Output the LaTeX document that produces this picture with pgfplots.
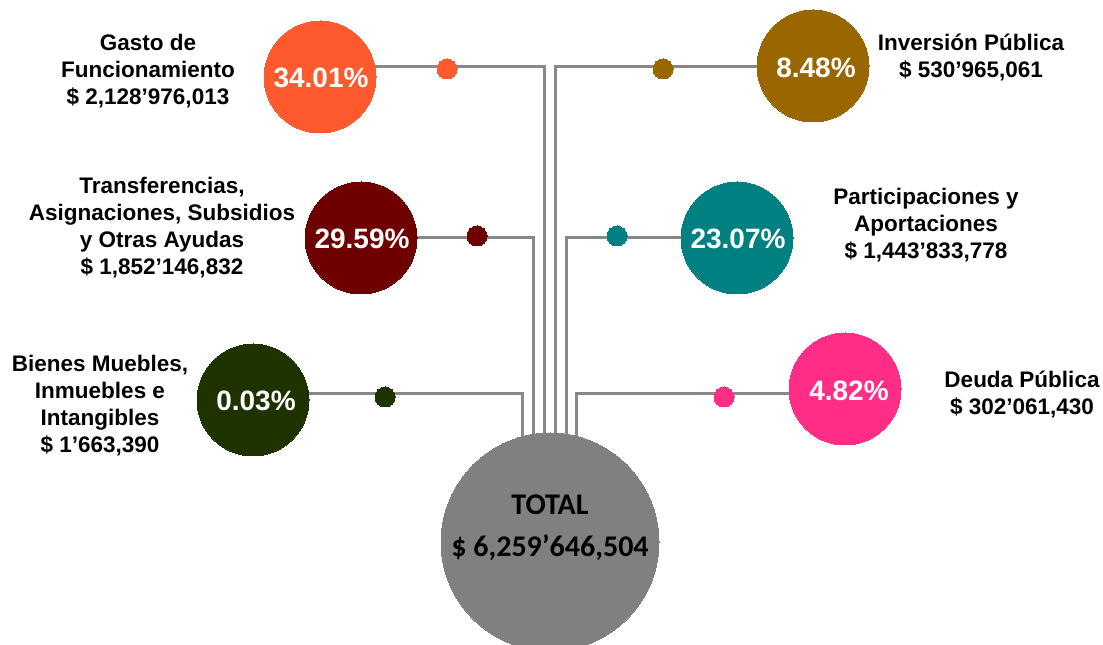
\documentclass[border=0pt]{standalone}
\usepackage{pgfplots}
\pgfplotsset{compat=1.18}
\usepackage{fontspec}
\setmainfont{Liberation Sans}
\newfontfamily\carlito{Carlito}
\definecolor{cOrange}{HTML}{FF5A2E}
\definecolor{cRed}{HTML}{6E0000}
\definecolor{cGreen}{HTML}{1F3300}
\definecolor{cBrown}{HTML}{996600}
\definecolor{cTeal}{HTML}{008080}
\definecolor{cPink}{HTML}{FF2D85}
\definecolor{cGray}{HTML}{808080}
\definecolor{cLine}{HTML}{888888}
\tikzset{
  lbl/.style={font=\bfseries\fontsize{22.5bp}{27bp}\selectfont, align=center, text=black},
  pct/.style={font=\bfseries\fontsize{28bp}{32bp}\selectfont, text=white},
  conn/.style={cLine, line width=3bp, mark=none, line join=miter},
  big/.style={color=#1, only marks, mark=*, mark size=56bp, mark options={draw=#1, fill=#1, line width=0pt}},
  dot/.style={color=#1, only marks, mark=*, mark size=10bp, mark options={draw=#1, fill=#1, line width=0pt}},
}
\begin{document}
\begin{tikzpicture}
\begin{axis}[
  width=1103bp, height=645bp, scale only axis,
  xmin=0, xmax=1103, ymin=0, ymax=645, y dir=reverse,
  hide axis, clip=true, clip marker paths=true,
  set layers,
]
% connectors
\addplot[conn] coordinates {(320,67) (544,67) (544,520)};
\addplot[conn] coordinates {(361,238) (533,238) (533,520)};
\addplot[conn] coordinates {(253,394) (522,394) (522,520)};
\addplot[conn] coordinates {(813,67) (555,67) (555,520)};
\addplot[conn] coordinates {(737,238) (566,238) (566,520)};
\addplot[conn] coordinates {(845,394) (576,394) (576,520)};
% total circle
\addplot[color=cGray, only marks, mark=*, mark size=109bp, mark options={draw=cGray, fill=cGray, line width=0pt}] coordinates {(550,542)};
% category circles
\addplot[big=cOrange] coordinates {(320,77)};
\addplot[big=cRed] coordinates {(361,238)};
\addplot[big=cGreen] coordinates {(253,400)};
\addplot[big=cBrown] coordinates {(813,66)};
\addplot[big=cTeal] coordinates {(737,238)};
\addplot[big=cPink] coordinates {(845,389)};
% small dots
\addplot[dot=cOrange] coordinates {(447,69)};
\addplot[dot=cRed] coordinates {(477,236)};
\addplot[dot=cGreen] coordinates {(385,397)};
\addplot[dot=cBrown] coordinates {(663,69)};
\addplot[dot=cTeal] coordinates {(617,236)};
\addplot[dot=cPink] coordinates {(724,397)};
\begin{pgfonlayer}{axis foreground}
% percentages
\node[pct] at (axis cs:321,78) {34.01\%};
\node[pct] at (axis cs:362,239) {29.59\%};
\node[pct] at (axis cs:256,401) {0.03\%};
\node[pct] at (axis cs:816,68) {8.48\%};
\node[pct] at (axis cs:738,239) {23.07\%};
\node[pct] at (axis cs:849,391) {4.82\%};
% labels
\node[lbl] at (axis cs:148,71) {Gasto de\\Funcionamiento\\\$ 2,128’976,013};
\node[lbl] at (axis cs:162,228) {Transferencias,\\Asignaciones, Subsidios\\y Otras Ayudas\\\$ 1,852’146,832};
\node[lbl] at (axis cs:100,406) {Bienes Muebles,\\Inmuebles e\\Intangibles\\\$ 1’663,390};
\node[lbl] at (axis cs:971,57) {Inversión Pública\\\$ 530’965,061};
\node[lbl] at (axis cs:926,225) {Participaciones y\\Aportaciones\\\$ 1,443’833,778};
\node[lbl] at (axis cs:1022,394) {Deuda Pública\\\$ 302’061,430};
% total
\node[font=\carlito\bfseries\fontsize{30bp}{32bp}\selectfont] at (axis cs:550,505) {TOTAL};
\node[font=\carlito\bfseries\fontsize{30bp}{32bp}\selectfont] at (axis cs:550,548) {\$ 6,259’646,504};
\end{pgfonlayer}
\end{axis}
\pgfresetboundingbox
\useasboundingbox (current axis.south west) rectangle (current axis.north east);
\end{tikzpicture}
\end{document}
